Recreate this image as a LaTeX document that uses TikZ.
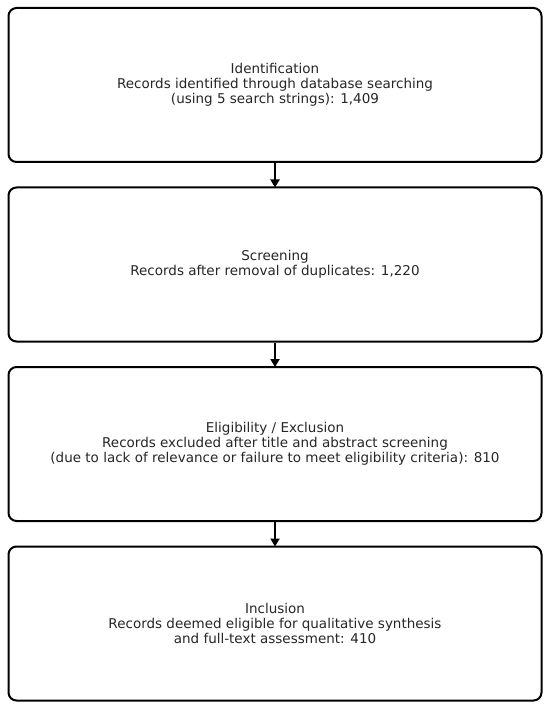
\documentclass[tikz,border=0pt]{standalone}
\usepackage{fontspec}
\setmainfont{DejaVu Sans}
\usetikzlibrary{arrows.meta}
\definecolor{txt}{HTML}{262626}
\tikzset{
  stage/.style={draw=black, line width=2pt, rounded corners=8pt, minimum width=533pt, minimum height=154pt, align=center, text=txt, font=\fontsize{13.5pt}{15pt}\selectfont, inner sep=0pt},
  flow/.style={line width=2pt, -{Triangle[length=8pt,width=9pt]}, shorten >=-1pt}
}
\begin{document}
\begin{tikzpicture}[x=1pt,y=-1pt]
\useasboundingbox (0,0) rectangle (550,708);
\node[stage] (a) at (275,85) {Identification\\Records identified through database searching\\(using 5 search strings): 1,409};
\node[stage] (b) at (275,264.5) {Screening\\Records after removal of duplicates: 1,220};
\node[stage] (c) at (275,444) {Eligibility / Exclusion\\Records excluded after title and abstract screening\\(due to lack of relevance or failure to meet eligibility criteria): 810};
\node[stage] (d) at (275,623.5) {Inclusion\\Records deemed eligible for qualitative synthesis\\and full-text assessment: 410};
\draw[flow] (a.south) -- (b.north);
\draw[flow] (b.south) -- (c.north);
\draw[flow] (c.south) -- (d.north);
\end{tikzpicture}
\end{document}
